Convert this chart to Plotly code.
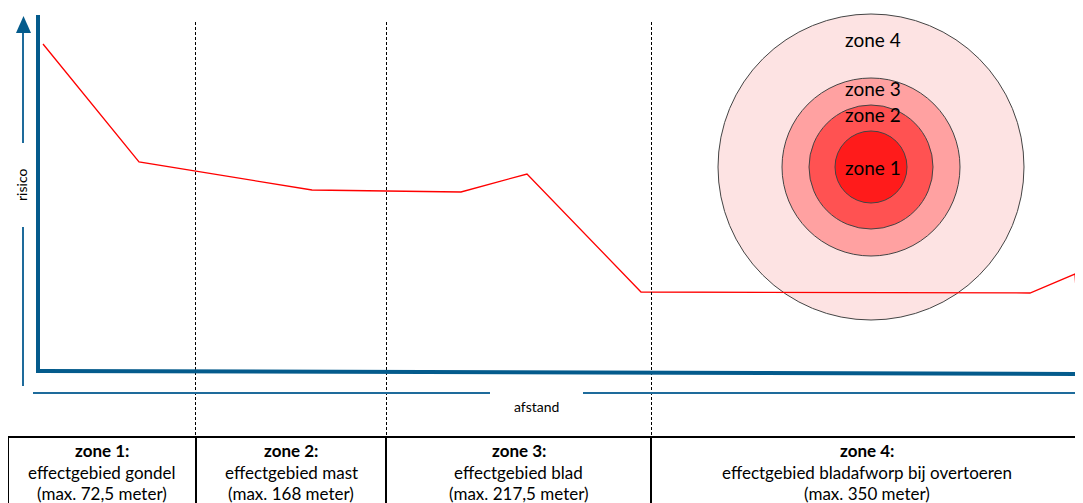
import plotly.graph_objects as go

W, H = 1083, 503
PAD = 8  # page body margin in the browser
FIG_W, FIG_H = W - 2 * PAD, H - PAD

# risk profile (schematic units: afstand left->right, risico bottom->top)
afstand = [43, 139, 312, 461, 527, 641, 1030, 1075, 1081]
risico = [459, 341, 313, 311, 329, 211, 210, 229, 140]

zone_bounds = [195, 386, 651]

circle_labels = ["zone 4", "zone 3", "zone 2", "zone 1"]
circle_radii = [153, 89, 62, 36]
circle_colors = ["#FDE3E3", "#FFA1A1", "#FF5252", "#FF1B1B"]
circle_label_y = [39, 88, 114, 167]

table_titles = ["zone 1:", "zone 2:", "zone 3:", "zone 4:"]
table_lines = ["effectgebied gondel", "effectgebied mast", "effectgebied blad",
               "effectgebied bladafworp bij overtoeren"]
table_max = ["(max. 72,5 meter)", "(max. 168 meter)", "(max. 217,5 meter)", "(max. 350 meter)"]
table_edges = [8, 196, 386, 651, 1083]

FONT = "Lato"
THICK = "#045B8C"
THIN = "#1E6B9B"


def Y(py):
    return H - py


fig = go.Figure()
fig.add_trace(go.Scatter(x=afstand, y=risico, mode="lines", cliponaxis=False,
                         line=dict(color="#FF0000", width=1.3), hoverinfo="skip"))

shapes = []
# concentric circles (under the risk line)
cx, cy = 871, 167
for r, c in zip(circle_radii, circle_colors):
    shapes.append(dict(type="circle", x0=cx - r, x1=cx + r, y0=Y(cy + r), y1=Y(cy - r),
                       fillcolor=c, line=dict(color="#444444", width=1), layer="below"))

# dashed zone boundaries
for xb in zone_bounds:
    shapes.append(dict(type="line", x0=xb + 0.5, x1=xb + 0.5, y0=Y(22), y1=Y(437),
                       line=dict(color="black", width=1, dash="3px,2px")))

# thick axes
shapes.append(dict(type="line", x0=38, x1=38, y0=Y(15), y1=Y(373),
                   line=dict(color=THICK, width=4)))
shapes.append(dict(type="line", x0=40, x1=1083, y0=Y(371), y1=Y(374),
                   line=dict(color=THICK, width=4)))

# thin y arrow with gap for label
shapes.append(dict(type="line", x0=23, x1=23, y0=Y(30), y1=Y(143),
                   line=dict(color=THIN, width=2)))
shapes.append(dict(type="line", x0=23, x1=23, y0=Y(227), y1=Y(386),
                   line=dict(color=THIN, width=2)))
shapes.append(dict(type="path",
                   path=f"M 16 {Y(33)} L 31 {Y(33)} L 23.5 {Y(16)} Z",
                   fillcolor=THICK, line=dict(color=THICK, width=0)))

# thin x arrow with gap for label
shapes.append(dict(type="line", x0=33, x1=490, y0=Y(393), y1=Y(393),
                   line=dict(color=THIN, width=2)))
shapes.append(dict(type="line", x0=583, x1=1083, y0=Y(393), y1=Y(393),
                   line=dict(color=THIN, width=2)))
shapes.append(dict(type="line", x0=1082, x1=1082, y0=Y(387), y1=Y(401),
                   line=dict(color=THIN, width=2)))

# table
shapes.append(dict(type="line", x0=table_edges[0], x1=W, y0=Y(437), y1=Y(437),
                   line=dict(color="black", width=2)))
for xe in table_edges[:-1]:
    shapes.append(dict(type="line", x0=xe, x1=xe, y0=Y(437), y1=Y(H + 5),
                       line=dict(color="black", width=2)))

ann = []
for lab, ly in zip(circle_labels, circle_label_y):
    ann.append(dict(x=cx + 2, y=Y(ly), text=lab, showarrow=False,
                    font=dict(family=FONT, size=19, color="black")))

ann.append(dict(x=21, y=Y(185), text="risico", textangle=-90, showarrow=False,
                font=dict(family=FONT, size=14, color="black")))
ann.append(dict(x=536, y=Y(406), text="afstand", showarrow=False,
                font=dict(family=FONT, size=14, color="black")))

for i in range(4):
    xc = (table_edges[i] + table_edges[i + 1]) / 2
    ann.append(dict(x=xc, y=Y(450), text=f"<b>{table_titles[i]}</b>", showarrow=False,
                    font=dict(family=FONT, size=17, color="black")))
    ann.append(dict(x=xc, y=Y(472), text=table_lines[i], showarrow=False,
                    font=dict(family=FONT, size=17, color="black")))
    ann.append(dict(x=xc, y=Y(493), text=table_max[i], showarrow=False,
                    font=dict(family=FONT, size=17, color="black")))

fig.update_layout(
    width=FIG_W, height=FIG_H,
    margin=dict(l=0, r=0, t=0, b=0),
    paper_bgcolor="white", plot_bgcolor="white",
    showlegend=False,
    xaxis=dict(range=[PAD, PAD + FIG_W], visible=False, fixedrange=True),
    yaxis=dict(range=[H - PAD - FIG_H, H - PAD], visible=False, fixedrange=True),
    shapes=shapes, annotations=ann,
)

fig.write_html("out.html")
